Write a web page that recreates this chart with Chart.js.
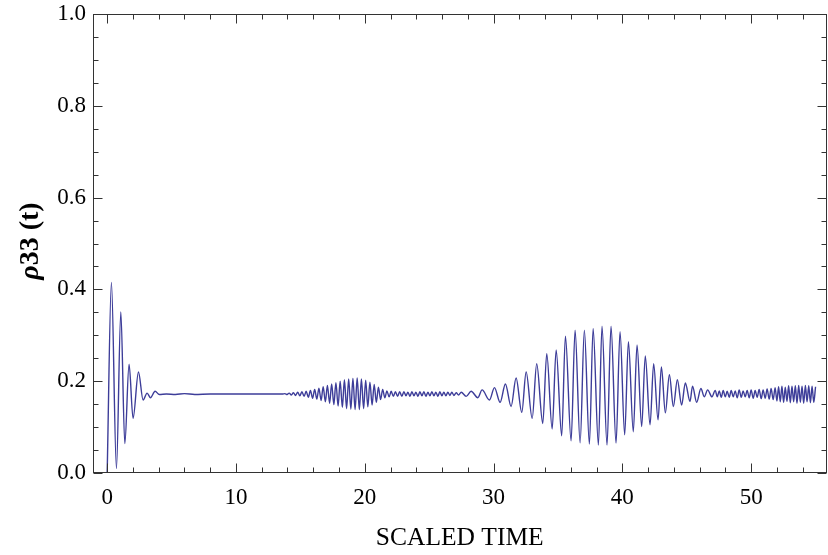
<!DOCTYPE html>
<html>
<head>
<meta charset="utf-8">
<script src="https://cdn.jsdelivr.net/npm/chart.js@4.4.1/dist/chart.umd.min.js"></script>
<style>
  html, body { margin: 0; padding: 0; background: #fff; }
</style>
</head>
<body>
<canvas id="myChart" width="828" height="555"></canvas>
<script>
// scaled time of each peak / trough (and a few points on the flat stretch)
const time = [
  0, 0.33, 0.72, 1.06, 1.37, 1.70, 2.01, 2.43, 2.79, 3.10, 3.36, 3.72, 4.05, 4.6, 5.3, 6.0, 6.8, 8.0, 10.0, 12.0, 13.6,
  13.80, 13.97, 14.13, 14.30, 14.46, 14.63, 14.79, 14.96, 15.12, 15.29, 15.45, 15.62, 15.78, 15.95, 16.11, 16.28,
  16.44, 16.61, 16.77, 16.94, 17.10, 17.27, 17.43, 17.60, 17.76, 17.93, 18.09, 18.26, 18.42, 18.59, 18.75, 18.92,
  19.08, 19.25, 19.41, 19.58, 19.74, 19.91, 20.07, 20.24, 20.40, 20.57, 20.73, 20.90, 21.06, 21.23, 21.39, 21.56,
  21.72, 21.89, 22.05, 22.22, 22.38, 22.55, 22.71, 22.88,
  23.04, 23.20, 23.35, 23.51, 23.66, 23.82, 23.97, 24.13, 24.28, 24.44, 24.59, 24.75, 24.90, 25.06, 25.21, 25.37,
  25.52, 25.68, 25.83, 25.99, 26.14, 26.30, 26.45, 26.61, 26.76, 26.92, 27.10, 27.28,
  27.49, 27.87, 28.26, 28.78, 29.11, 29.68, 30.07, 30.51, 30.92, 31.36, 31.75, 32.19, 32.53, 33.00, 33.35, 33.82,
  34.13, 34.55, 34.86, 35.29, 35.58, 36.02, 36.33, 36.72, 37.05, 37.44, 37.73, 38.14, 38.42, 38.81, 39.12, 39.51,
  39.82, 40.18, 40.47, 40.85, 41.14, 41.50, 41.78, 42.15, 42.43, 42.77, 43.03, 43.34, 43.65, 43.96, 44.27, 44.60,
  44.89, 45.25, 45.45, 45.77,
  46.10, 46.36, 46.62, 46.96, 47.21, 47.37, 47.52, 47.68, 47.83, 47.99, 48.14, 48.30, 48.45, 48.61, 48.76, 48.92,
  49.07, 49.23, 49.38, 49.54, 49.69, 49.85, 50.00, 50.16, 50.31, 50.47, 50.62, 50.78, 50.93, 51.09, 51.24, 51.40,
  51.55, 51.71, 51.86, 52.00, 52.13, 52.26, 52.39, 52.52, 52.65, 52.78, 52.91, 53.04, 53.17, 53.30, 53.43, 53.56,
  53.69, 53.82, 53.95, 54.08, 54.21, 54.34, 54.47, 54.60, 54.73, 54.86, 55.00
];
const rho33 = [
  0.000, 0.415, 0.010, 0.351, 0.064, 0.237, 0.119, 0.220, 0.159, 0.174, 0.164, 0.178, 0.171, 0.172, 0.171, 0.173, 0.171, 0.172, 0.172, 0.172, 0.172,
  0.173, 0.171, 0.174, 0.170, 0.175, 0.169, 0.176, 0.168, 0.177, 0.167, 0.178, 0.165, 0.180, 0.163, 0.182, 0.161,
  0.185, 0.158, 0.188, 0.155, 0.191, 0.152, 0.194, 0.149, 0.197, 0.146, 0.200, 0.143, 0.203, 0.140, 0.205, 0.139,
  0.206, 0.138, 0.207, 0.138, 0.205, 0.140, 0.202, 0.144, 0.198, 0.148, 0.193, 0.154, 0.187, 0.160, 0.182, 0.164,
  0.179, 0.166, 0.178, 0.167, 0.177, 0.167, 0.177, 0.167,
  0.177, 0.168, 0.176, 0.167, 0.177, 0.168, 0.176, 0.167, 0.177, 0.168, 0.177, 0.167, 0.176, 0.168, 0.177, 0.168,
  0.176, 0.167, 0.177, 0.168, 0.176, 0.168, 0.176, 0.169, 0.176, 0.169, 0.175, 0.170,
  0.176, 0.167, 0.178, 0.164, 0.181, 0.159, 0.186, 0.154, 0.194, 0.145, 0.207, 0.132, 0.220, 0.119, 0.238, 0.108,
  0.260, 0.096, 0.268, 0.081, 0.298, 0.070, 0.311, 0.066, 0.311, 0.063, 0.315, 0.061, 0.320, 0.061, 0.320, 0.065,
  0.308, 0.083, 0.286, 0.090, 0.279, 0.101, 0.255, 0.105, 0.238, 0.116, 0.231, 0.131, 0.214, 0.145, 0.203, 0.148,
  0.196, 0.156, 0.189, 0.154,
  0.184, 0.166, 0.181, 0.166, 0.180, 0.166, 0.179, 0.165, 0.180, 0.166, 0.178, 0.165, 0.180, 0.166, 0.179, 0.164,
  0.181, 0.165, 0.179, 0.166, 0.180, 0.164, 0.181, 0.163, 0.180, 0.165, 0.182, 0.162, 0.181, 0.163, 0.183, 0.161,
  0.184, 0.160, 0.186, 0.157, 0.188, 0.155, 0.189, 0.154, 0.187, 0.156, 0.190, 0.153, 0.189, 0.155, 0.190, 0.152,
  0.191, 0.154, 0.189, 0.152, 0.191, 0.155, 0.190, 0.153, 0.189, 0.154, 0.188
];
const xTicks = [0, 10, 20, 30, 40, 50];
const yTicks = [0, 0.2, 0.4, 0.6, 0.8, 1.0];
const xMinor = [2, 4, 6, 8, 12, 14, 16, 18, 22, 24, 26, 28, 32, 34, 36, 38, 42, 44, 46, 48, 52, 54];
const yMinor = [0.05, 0.1, 0.15, 0.25, 0.3, 0.35, 0.45, 0.5, 0.55, 0.65, 0.7, 0.75, 0.85, 0.9, 0.95];

const serif = "'Liberation Serif', 'DejaVu Serif', serif";
const lineColor = 'rgb(61, 61, 153)';

// frame with inward ticks on all four sides, plus the y title
const frameTicks = {
  id: 'frameTicks',
  afterDraw(chart) {
    const { ctx, chartArea: a, scales: { x, y } } = chart;
    const L = Math.round(a.left) + 0.5, R = Math.round(a.right) - 0.5;
    const T = Math.round(a.top) + 0.5, B = Math.round(a.bottom) - 0.5;
    ctx.save();
    ctx.strokeStyle = '#333';
    ctx.lineWidth = 1;
    ctx.strokeRect(L, T, R - L, B - T);
    ctx.beginPath();
    const xt = (v, len) => {
      const p = Math.round(x.getPixelForValue(v)) + 0.5;
      ctx.moveTo(p, B); ctx.lineTo(p, B - len);
      ctx.moveTo(p, T); ctx.lineTo(p, T + len);
    };
    const yt = (v, len) => {
      const p = Math.round(y.getPixelForValue(v)) + 0.5;
      ctx.moveTo(L, p); ctx.lineTo(L + len, p);
      ctx.moveTo(R, p); ctx.lineTo(R - len, p);
    };
    xTicks.forEach(v => xt(v, 9));
    xMinor.forEach(v => xt(v, 5));
    yTicks.forEach(v => yt(v, 9));
    yMinor.forEach(v => yt(v, 5));
    ctx.stroke();

    // ρ33 (t)
    ctx.translate(31, 241);
    ctx.rotate(-Math.PI / 2);
    ctx.fillStyle = '#000';
    ctx.textBaseline = 'middle';
    const f1 = 'italic bold 28px ' + serif, f2 = 'bold 28px ' + serif;
    ctx.font = f1; const w1 = ctx.measureText('ρ').width;
    ctx.font = f2; const w2 = ctx.measureText('33 (t)').width;
    let sx = -(w1 + w2) / 2;
    ctx.font = f1; ctx.fillText('ρ', sx, 0);
    ctx.font = f2; ctx.fillText('33 (t)', sx + w1, 0);
    ctx.restore();
  }
};

const ctx = document.getElementById('myChart').getContext('2d');
new Chart(ctx, {
  type: 'line',
  data: {
    datasets: [{
      data: time.map((t, i) => ({ x: t, y: rho33[i] })),
      borderColor: lineColor,
      borderWidth: 1.4,
      pointRadius: 0,
      fill: false,
      cubicInterpolationMode: 'monotone'
    }]
  },
  options: {
    responsive: false,
    animation: false,
    layout: { padding: { top: 14, right: 1.5, left: 0, bottom: 0 } },
    plugins: { legend: { display: false }, tooltip: { enabled: false } },
    scales: {
      x: {
        type: 'linear',
        min: -1.1,
        max: 55.85,
        afterBuildTicks: s => { s.ticks = xTicks.map(v => ({ value: v })); },
        afterFit: s => { s.height = 82; s.paddingLeft = 0; s.paddingRight = 0; },
        grid: { display: false, drawTicks: false },
        border: { display: false },
        ticks: { padding: 11, color: '#000', maxRotation: 0, autoSkip: false, font: { family: serif, size: 23 } },
        title: { display: true, text: 'SCALED TIME', color: '#000', font: { family: serif, size: 25.5 }, padding: { top: 0, bottom: 1 } }
      },
      y: {
        min: 0,
        max: 1,
        afterBuildTicks: s => { s.ticks = yTicks.map(v => ({ value: v })); },
        afterFit: s => { s.width = 93; s.paddingTop = 0; s.paddingBottom = 0; },
        grid: { display: false, drawTicks: false },
        border: { display: false },
        ticks: { padding: 7, color: '#000', font: { family: serif, size: 23 }, callback: v => v.toFixed(1) }
      }
    }
  },
  plugins: [frameTicks]
});
</script>
</body>
</html>
